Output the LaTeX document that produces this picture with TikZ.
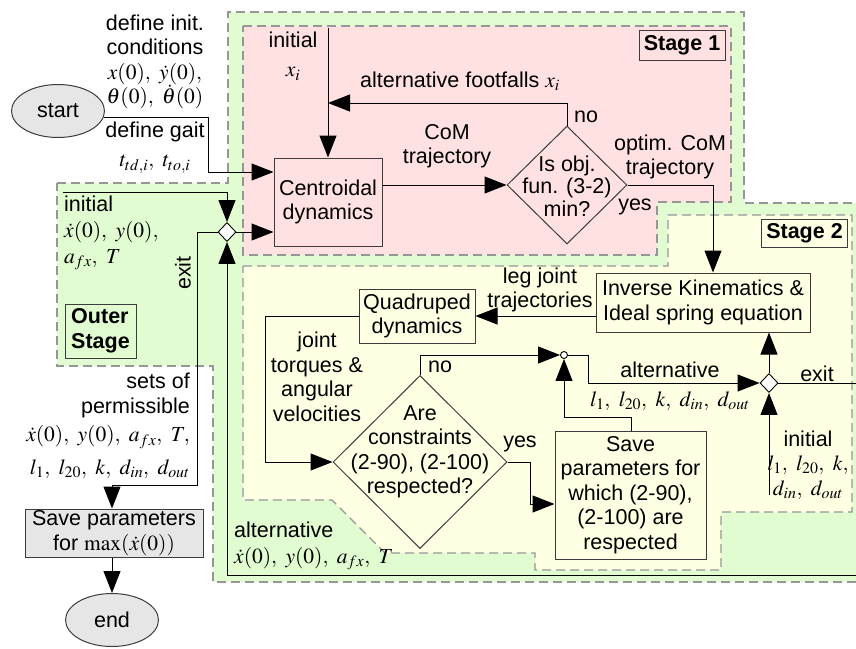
\documentclass[tikz,border=0pt]{standalone}
\usepackage{mathptmx}
\usepackage[no-math]{fontspec}
\setmainfont{Liberation Sans}
\usetikzlibrary{shapes.geometric,arrows.meta}
\definecolor{outgreen}{RGB}{224,252,208}
\definecolor{stpink}{RGB}{255,225,225}
\definecolor{styellow}{RGB}{255,255,228}
\definecolor{dashgray}{RGB}{150,150,150}
\definecolor{boxline}{RGB}{60,60,60}
\definecolor{termfill}{RGB}{230,230,230}
\tikzset{
  txt/.style={font=\fontsize{21.5}{24.5}\selectfont, inner sep=0pt},
  region/.style={draw=dashgray, line width=1.2pt, dash pattern=on 9pt off 5pt},
  box/.style={txt, draw=boxline, line width=1pt, align=center},
  term/.style={txt, ellipse, draw=boxline, line width=1pt, fill=termfill},
  dia/.style={diamond, draw=boxline, line width=1pt, inner sep=0pt},
  jct/.style={diamond, draw=black, line width=0.9pt, fill=white, inner sep=0pt, minimum width=18pt, minimum height=19pt},
  lbl/.style={txt, align=center},
  conn/.style={draw=black, line width=1pt},
  arr/.style={conn, -{Triangle[length=22pt,width=17pt]}},
  stagebox/.style={txt, draw=boxline, line width=1pt, font=\fontsize{21.5}{24.5}\selectfont\bfseries},
}
\begin{document}
\begin{tikzpicture}[x=1pt,y=-1pt]
\useasboundingbox (0,0) rectangle (856,648);
% regions
\path[fill=outgreen, region] (57,183) -- (228,183) -- (228,12) -- (744,12) -- (744,203) -- (870,203) -- (870,582) -- (213,582) -- (213,366) -- (57,366) -- cycle;
\path[fill=stpink, region] (243,26) -- (731,26) -- (731,202) -- (657,202) -- (657,255) -- (243,255) -- cycle;
\path[fill=styellow, region] (243,266) -- (668,266) -- (668,215) -- (852,215) -- (852,512) -- (721,512) -- (721,570) -- (535,570) -- (535,553) -- (385,553) -- (332,500) -- (243,500) -- cycle;

% main nodes
\node[term, minimum width=93pt, minimum height=53pt] (start) at (58,111) {start};
\node[box, minimum width=108pt, minimum height=88pt] (cent) at (328,202) {Centroidal\\dynamics};
\node[dia, minimum width=120pt, minimum height=118pt] (obj) at (567,185) {};
\node[lbl] (objt) at (567,186) {Is obj.\\[-2pt]fun. (3-2)\\[-2pt]min?};
\node[jct] (j1) at (227,232) {};
\node[box, minimum width=214pt, minimum height=59pt] (ik) at (703,302.5) {Inverse Kinematics \&\\Ideal spring equation};
\node[box, minimum width=116pt, minimum height=54pt] (qd) at (417,316) {Quadruped\\dynamics};
\node[dia, minimum width=174pt, minimum height=173pt] (con) at (420,462) {};
\node[lbl] (cont) at (420,452) {Are\\constraints\\(2-90), (2-100)\\respected?};
\node[circle, draw=black, line width=0.9pt, fill=white, minimum size=7pt, inner sep=0pt] (circ) at (564,355) {};
\node[jct] (j2) at (769,383) {};
\node[box, minimum width=151pt, minimum height=128pt] (save2) at (630.5,495) {Save\\parameters for\\which (2-90),\\(2-100) are\\respected};
\node[box, fill=termfill, minimum width=178pt, minimum height=48pt] (save1) at (114,533) {Save parameters\\for $\max(\dot x(0))$};
\node[term, minimum width=93pt, minimum height=53pt] (end) at (112,620) {end};

% stage labels
\node[stagebox, minimum width=86pt, minimum height=30pt] (s1) at (682,45) {Stage 1};
\node[stagebox, minimum width=86pt, minimum height=28pt] (s2) at (804.5,233.5) {Stage 2};
\node[stagebox, align=left, minimum width=71pt, minimum height=54pt] (os) at (100.5,331) {Outer\\Stage};

% labels
\node[lbl] (definit) at (155,62) {define init.\\conditions\\$x(0),\ \dot y(0),$\\$\theta(0),\ \dot\theta(0)$};
\node[lbl] (gait) at (155,148) {define gait\\[4.5pt]$t_{td,i},\ t_{to,i}$};
\node[txt, align=left, anchor=west] (inito) at (64,233) {initial\\[1.5pt]$\dot x(0),\ y(0),$\\[1.5pt]$a_{fx},\ T$};
\node[txt, rotate=90] (exitl) at (183,273) {exit};
\node[txt, align=right, anchor=east] (sets) at (190,426) {sets of\\permissible\\[4pt]$\dot x(0),\ y(0),\ a_{fx},\ T,$\\[8pt]$l_1,\ l_{20},\ k,\ d_{in},\ d_{out}$};
\node[lbl] (initx) at (293,56) {initial\\[5pt]$x_i$};
\node[txt, anchor=west] (altf) at (360,81) {alternative footfalls $x_i$};
\node[txt] (no1) at (586,117) {no};
\node[lbl] (com) at (447,146) {CoM\\trajectory};
\node[lbl] (optim) at (670,157) {optim. CoM\\trajectory};
\node[txt] (yes1) at (635,207) {yes};
\node[lbl] (leg) at (540,290) {leg joint\\trajectories};
\node[lbl] (joint) at (317,377) {joint\\torques \&\\angular\\velocities};
\node[txt] (no2) at (440,367) {no};
\node[txt] (yes2) at (520,444) {yes};
\node[txt] (alt2) at (670,370) {alternative};
\node[txt] (par2) at (670,401) {$l_1,\ l_{20},\ k,\ d_{in},\ d_{out}$};
\node[txt] (exit2) at (817,374) {exit};
\node[lbl] (init2) at (808,465) {initial\\$l_1,\ l_{20},\ k,$\\$d_{in},\ d_{out}$};
\node[txt, align=left, anchor=west] (altb) at (234,546) {alternative\\[1pt]$\dot x(0),\ y(0),\ a_{fx},\ T$};

% coordinates
\coordinate (topx) at (328,28);
\coordinate (fb) at (567,103);
\coordinate (fbe) at (328,103);
\coordinate (g1) at (208,172);
\coordinate (ib) at (63,192);
\coordinate (ic) at (227,192);
\coordinate (ex1) at (197,232);
\coordinate (ex3) at (112,485);
\coordinate (o1) at (713,185);
\coordinate (q1) at (265,316);
\coordinate (n1) at (420,355);
\coordinate (c1) at (588,355);
\coordinate (y1) at (530,462);
\coordinate (y2) at (530,504);
\coordinate (sv) at (631,417);
\coordinate (i2) at (769,495);
\coordinate (e1) at (856,383);
\coordinate (e2) at (856,575);
\coordinate (e3) at (227,575);

% connectors
\draw[arr] (topx) -- (cent.north);
\draw[arr] (obj.north) -- (fb) -- (fbe);
\draw[arr] (start.-8) -| (g1) -- (cent.west |- g1);
\draw[arr] (ib) -- (ic) -- (j1.north);
\draw[arr] (j1.east) -- (cent.west |- j1.east);
\draw[arr] (j1.west) -- (ex1) |- (ex3) -- (ex3 |- save1.north);
\draw[arr] (save1.south -| end.north) -- (end.north);
\draw[arr] (cent.east |- obj.west) -- (obj.west);
\draw[arr] (obj.east) -- (o1) -- (o1 |- ik.north);
\draw[arr] (ik.west |- qd.east) -- (qd.east);
\draw[arr] (qd.west) -- (q1) |- (con.west);
\draw[arr] (con.north) -- (n1) -- (circ.west);
\draw[arr] (circ.east) -- (c1) |- (j2.west);
\draw[arr] (con.east) -- (y1) -- (y2) -- (y2 -| save2.west);
\draw[arr] (save2.north -| sv) -- (sv) -| (circ.south);
\draw[arr] (j2.north) -- (j2.north |- ik.south);
\draw[arr] (i2) -- (j2.south);
\draw[conn] (j2.east) -- (e1);
\draw[arr] (e2) -- (e3) -- (j1.south);
\end{tikzpicture}
\end{document}
